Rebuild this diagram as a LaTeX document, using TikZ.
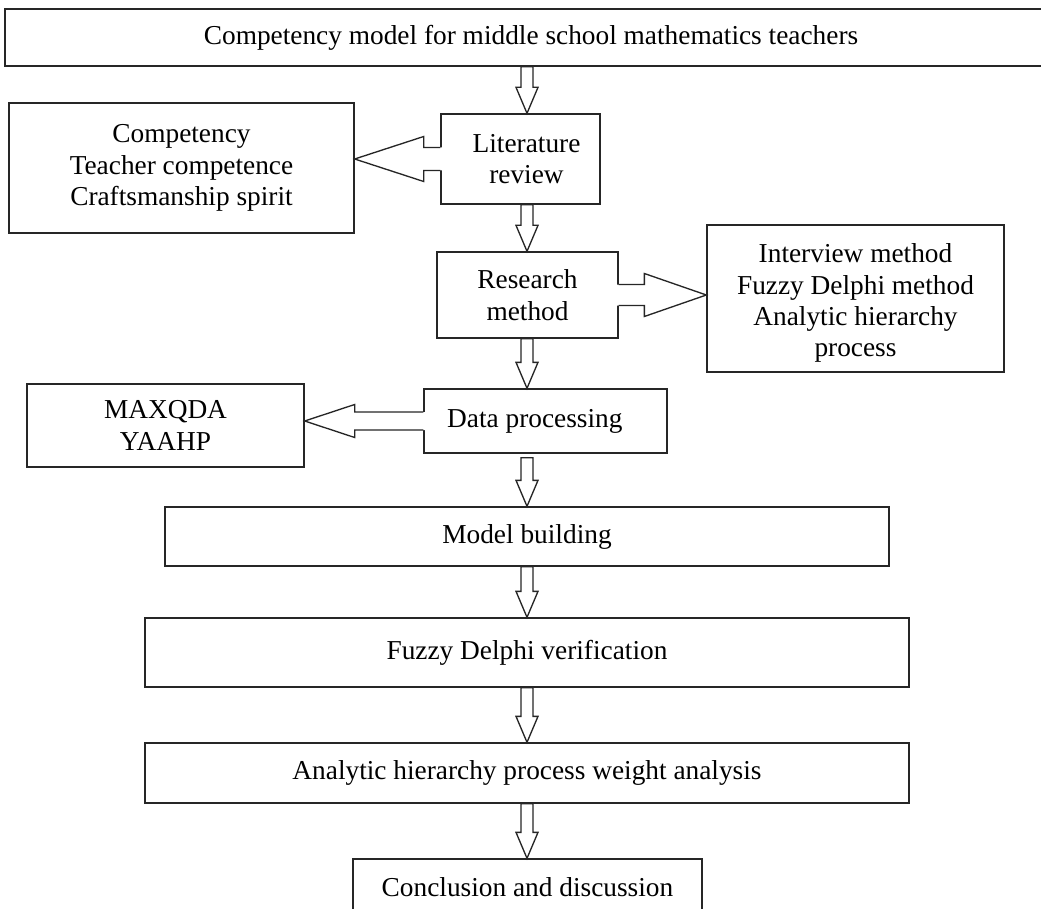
\documentclass[tikz,border=0pt]{standalone}
\usepackage{fontspec}
\setmainfont{Liberation Serif}
\usetikzlibrary{calc}
\newcommand\vblk[3]{%
  \draw[blk] ($(spine |- #1.south)+(-6,#3)$) -- ($(spine |- #2.north)+(-6,-26)$) -- ($(spine |- #2.north)+(-11,-26)$) -- (spine |- #2.north) -- ($(spine |- #2.north)+(11,-26)$) -- ($(spine |- #2.north)+(6,-26)$) -- ($(spine |- #1.south)+(6,#3)$) -- cycle;}
\newcommand\hblk[6]{%
  \fill[white] ($(#1)+({-(#3)*2},-#4)$) -- ($(#2)+({-(#3)*#6},-#4)$) -- ($(#2)+({-(#3)*#6},-#5)$) -- (#2) -- ($(#2)+({-(#3)*#6},#5)$) -- ($(#2)+({-(#3)*#6},#4)$) -- ($(#1)+({-(#3)*2},#4)$) -- cycle;
  \draw[blkline] ($(#1)+(0,-#4)$) -- ($(#2)+({-(#3)*#6},-#4)$) -- ($(#2)+({-(#3)*#6},-#5)$) -- (#2) -- ($(#2)+({-(#3)*#6},#5)$) -- ($(#2)+({-(#3)*#6},#4)$) -- ($(#1)+(0,#4)$);}
\begin{document}
\begin{tikzpicture}[x=0.75pt,y=-0.75pt,
  box/.style={draw=black!85, line width=1pt, fill=white, inner sep=0pt, align=center, font=\fontsize{20.5}{23.5}\selectfont},
  blk/.style={draw=black!85, line width=1pt, fill=white, line join=miter},
  blkline/.style={draw=black!85, line width=1pt, line join=miter}]
\useasboundingbox (0,0) rectangle (1041,909);
\clip (0,0) rectangle (1041,909);
\coordinate (spine) at (527,0);
\node[box, minimum width=789pt, minimum height=42.75pt] (top) at (531,37.5) {Competency model for middle school mathematics teachers};
\node[box, minimum width=119.25pt, minimum height=67.5pt] (lit) at (520.5,159) {\hspace*{9pt}Literature\\\hspace*{9pt}review};
\node[box, minimum width=258.75pt, minimum height=97.5pt] (comp) at (181.5,168) {Competency\\Teacher competence\\Craftsmanship spirit};
\node[box, minimum width=135.75pt, minimum height=64.5pt] (res) at (527.5,295) {Research\\method};
\node[box, minimum width=222.75pt, minimum height=110.25pt] (meth) at (855.5,298.5) {\rule{0pt}{21.5pt}Interview method\\Fuzzy Delphi method\\Analytic hierarchy\\process};
\node[box, minimum width=182.25pt, minimum height=48pt] (data) at (545.5,421) {Data processing\hspace*{16pt}};
\node[box, minimum width=207.75pt, minimum height=62.25pt] (max) at (165.5,425.5) {MAXQDA\\YAAHP};
\node[box, minimum width=543pt, minimum height=44.25pt] (model) at (527,536.5) {Model building};
\node[box, minimum width=573pt, minimum height=51.75pt] (fuzzy) at (527,652.5) {Fuzzy Delphi verification};
\node[box, minimum width=573pt, minimum height=45pt] (ahp) at (527,773) {Analytic hierarchy process weight analysis};
\node[box, minimum width=261.75pt, minimum height=42pt] (conc) at (527.5,887) {Conclusion and discussion};
\vblk{top}{lit}{0}
\vblk{lit}{res}{0}
\vblk{res}{data}{0}
\vblk{data}{model}{4}
\vblk{model}{fuzzy}{0}
\vblk{fuzzy}{ahp}{0}
\vblk{ahp}{conc}{0}
\coordinate (a1s) at (lit.west); \coordinate (a1t) at (comp.east |- lit.west);
\hblk{a1s}{a1t}{-1}{11.5}{22.5}{69}
\coordinate (a2s) at (res.east); \coordinate (a2t) at (meth.west |- res.east);
\hblk{a2s}{a2t}{1}{10.5}{21.5}{62}
\coordinate (a3s) at (data.west); \coordinate (a3t) at (max.east |- data.west);
\hblk{a3s}{a3t}{-1}{9}{16.5}{50}
\end{tikzpicture}
\end{document}
